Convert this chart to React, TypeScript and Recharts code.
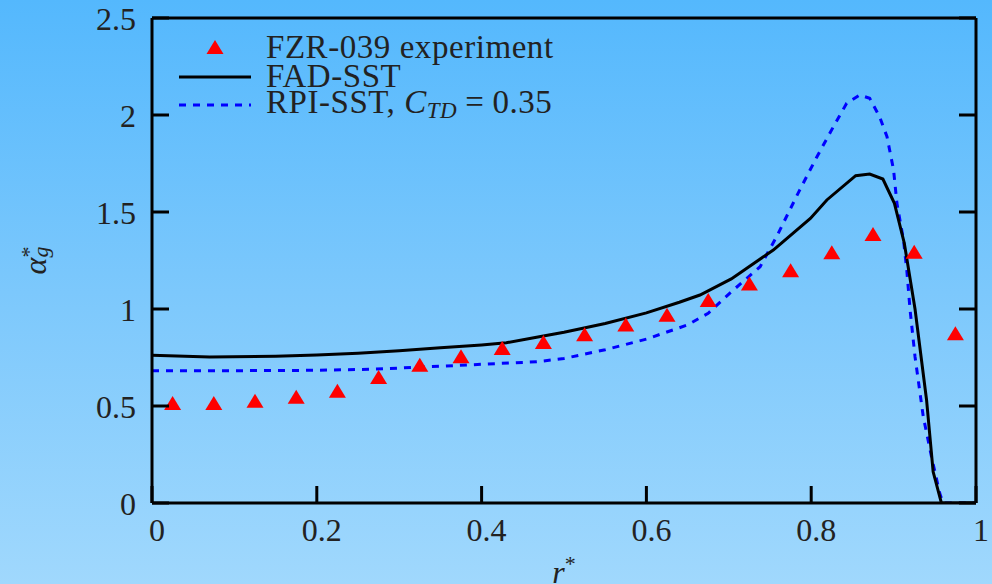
import { ComposedChart, Line, Scatter, XAxis, YAxis } from "recharts";

// FZR-039 experiment
const expR = [0.025, 0.075, 0.125, 0.175, 0.225, 0.275, 0.325, 0.375, 0.425, 0.475,
  0.525, 0.575, 0.625, 0.675, 0.725, 0.775, 0.825, 0.875, 0.925, 0.975];
const expAlpha = [0.516, 0.516, 0.527, 0.548, 0.579, 0.649, 0.713, 0.756, 0.799, 0.83,
  0.87, 0.92, 0.97, 1.046, 1.132, 1.2, 1.292, 1.387, 1.295, 0.875];

// FAD-SST
const fadR = [0, 0.07, 0.15, 0.2, 0.25, 0.3, 0.35, 0.4, 0.43, 0.47, 0.5, 0.55, 0.6, 0.64,
  0.665, 0.703, 0.754, 0.799, 0.819, 0.854, 0.871, 0.887, 0.901, 0.913, 0.926, 0.94,
  0.948, 0.958, 1];
const fadAlpha = [0.762, 0.752, 0.757, 0.763, 0.772, 0.785, 0.8, 0.815, 0.826, 0.857, 0.88,
  0.925, 0.98, 1.035, 1.072, 1.155, 1.304, 1.467, 1.562, 1.687, 1.696, 1.67, 1.545, 1.339,
  1.0, 0.531, 0.161, 0, 0];

// RPI-SST, C_TD = 0.35
const rpiR = [0, 0.1, 0.2, 0.27, 0.35, 0.4, 0.467, 0.5, 0.55, 0.6, 0.65, 0.675, 0.701,
  0.738, 0.758, 0.786, 0.807, 0.827, 0.843, 0.859, 0.871, 0.883, 0.892, 0.9, 0.904, 0.912,
  0.916, 0.92, 0.926, 0.936, 0.946, 0.956, 0.96, 1];
const rpiAlpha = [0.682, 0.682, 0.684, 0.69, 0.705, 0.715, 0.728, 0.745, 0.79, 0.845, 0.918,
  0.978, 1.081, 1.218, 1.373, 1.613, 1.785, 1.94, 2.06, 2.103, 2.086, 1.991, 1.888, 1.716,
  1.546, 1.356, 1.2, 0.995, 0.754, 0.445, 0.239, 0.05, 0, 0];

const xTicks = [0, 0.2, 0.4, 0.6, 0.8, 1];
const yTicks = [0, 0.5, 1, 1.5, 2, 2.5];

const expData = expR.map((x, i) => ({ x, y: expAlpha[i] }));
const fadData = fadR.map((x, i) => ({ x, y: fadAlpha[i] }));
const rpiData = rpiR.map((x, i) => ({ x, y: rpiAlpha[i] }));

const FONT = "'Liberation Serif', 'Times New Roman', serif";
const INK = "#222";
const TICK = 17;

const tri = (cx: number, cy: number) =>
  `${cx},${cy - 7} ${cx - 8.5},${cy + 7} ${cx + 8.5},${cy + 7}`;

function Triangle(props: any) {
  const { cx, cy } = props;
  if (cx == null || cy == null) return null;
  return <polygon points={tri(cx, cy)} fill="#ff0000" />;
}

function BottomTick({ x, y, payload }: any) {
  return (
    <g>
      <line x1={x} y1={y} x2={x} y2={y - TICK} stroke="#000" strokeWidth={3} />
      <text x={x + 5} y={y + 38} textAnchor="middle" fontFamily={FONT} fontSize={32} fill={INK}>
        {String(payload.value)}
      </text>
    </g>
  );
}

function TopTick({ x, y }: any) {
  return <line x1={x} y1={y} x2={x} y2={y + TICK} stroke="#000" strokeWidth={3} />;
}

function LeftTick({ x, y, payload }: any) {
  return (
    <g>
      <line x1={x} y1={y} x2={x + TICK} y2={y} stroke="#000" strokeWidth={3} />
      <text x={136} y={y + 11.5} textAnchor="end" fontFamily={FONT} fontSize={32} fill={INK}>
        {String(payload.value)}
      </text>
    </g>
  );
}

function RightTick({ x, y }: any) {
  return <line x1={x} y1={y} x2={x - TICK} y2={y} stroke="#000" strokeWidth={3} />;
}

function XTitle({ viewBox }: any) {
  const cx = viewBox.x + viewBox.width / 2;
  return (
    <text x={cx} y={viewBox.y + 80} textAnchor="middle" fontFamily={FONT} fontSize={32} fill={INK}>
      <tspan fontStyle="italic">r</tspan>
      <tspan fontSize={22} dy={-12}>*</tspan>
    </text>
  );
}

function YTitle({ viewBox }: any) {
  const cy = viewBox.y + viewBox.height / 2;
  const bx = 46;
  return (
    <text x={bx} y={cy} transform={`rotate(-90 ${bx} ${cy})`} textAnchor="middle"
      fontFamily={FONT} fontSize={32} fill={INK}>
      <tspan fontStyle="italic">α</tspan>
      <tspan fontSize={22} dy={-10}>*</tspan>
      <tspan fontSize={22} fontStyle="italic" dx={-11} dy={12}>g</tspan>
    </text>
  );
}

function LegendBox() {
  const txt = { fontFamily: FONT, fontSize: 33, fill: INK, letterSpacing: 0.55 };
  return (
    <svg width={620} height={130}
      style={{ position: "absolute", left: 0, top: 0, display: "block", pointerEvents: "none" }}>
      <polygon points={tri(215, 47)} fill="#ff0000" />
      <text x={266} y={58} {...txt}>FZR-039 experiment</text>
      <line x1={179} y1={77} x2={251} y2={77} stroke="#000" strokeWidth={3} />
      <text x={266} y={87} {...txt}>FAD-SST</text>
      <line x1={179} y1={105} x2={251} y2={105} stroke="#0000ff" strokeWidth={3} strokeDasharray="7 7" />
      <text x={266} y={113} {...txt}>
        RPI-SST, <tspan fontStyle="italic">C</tspan>
        <tspan fontStyle="italic" fontSize={23} dy={5}>TD</tspan>
        <tspan dy={-5} dx={8}>=</tspan>
        <tspan dx={8}>0.35</tspan>
      </text>
    </svg>
  );
}

export default function App() {
  return (
    <div
      style={{
        position: "absolute",
        left: 0,
        top: 0,
        width: 992,
        height: 584,
        overflow: "hidden",
        background: "linear-gradient(180deg, #54b8fd 0%, #7cc8fc 50%, #a0d8fd 100%)",
      }}
    >
      <ComposedChart width={992} height={584} margin={{ top: 0, right: 0, bottom: 0, left: 0 }}>
        <XAxis xAxisId="b" type="number" dataKey="x" domain={[0, 1]} ticks={xTicks}
          allowDataOverflow height={81} tickSize={0} tickMargin={0} tickLine={false}
          axisLine={{ stroke: "#000", strokeWidth: 3 }} tick={<BottomTick />}
          label={<XTitle />} />
        <XAxis xAxisId="t" orientation="top" type="number" domain={[0, 1]} ticks={xTicks}
          allowDataOverflow height={18} tickSize={0} tickMargin={0} tickLine={false}
          axisLine={{ stroke: "#000", strokeWidth: 3 }} tick={<TopTick />} />
        <YAxis yAxisId="l" type="number" domain={[0, 2.5]} ticks={yTicks} allowDataOverflow
          width={152} tickSize={0} tickMargin={0} tickLine={false}
          axisLine={{ stroke: "#000", strokeWidth: 3 }} tick={<LeftTick />}
          label={<YTitle />} />
        <YAxis yAxisId="r" orientation="right" type="number" domain={[0, 2.5]} ticks={yTicks}
          allowDataOverflow width={16} tickSize={0} tickMargin={0} tickLine={false}
          axisLine={{ stroke: "#000", strokeWidth: 3 }} tick={<RightTick />} />
        <Line xAxisId="b" yAxisId="l" data={rpiData} dataKey="y" type="linear" name="RPI-SST"
          stroke="#0000ff" strokeWidth={3} strokeDasharray="7 7" dot={false}
          isAnimationActive={false} />
        <Line xAxisId="b" yAxisId="l" data={fadData} dataKey="y" type="linear" name="FAD-SST"
          stroke="#000" strokeWidth={3} dot={false} isAnimationActive={false} />
        <Scatter xAxisId="b" yAxisId="l" data={expData} dataKey="y" name="FZR-039 experiment"
          shape={<Triangle />} isAnimationActive={false} />
      </ComposedChart>
      <LegendBox />
    </div>
  );
}
